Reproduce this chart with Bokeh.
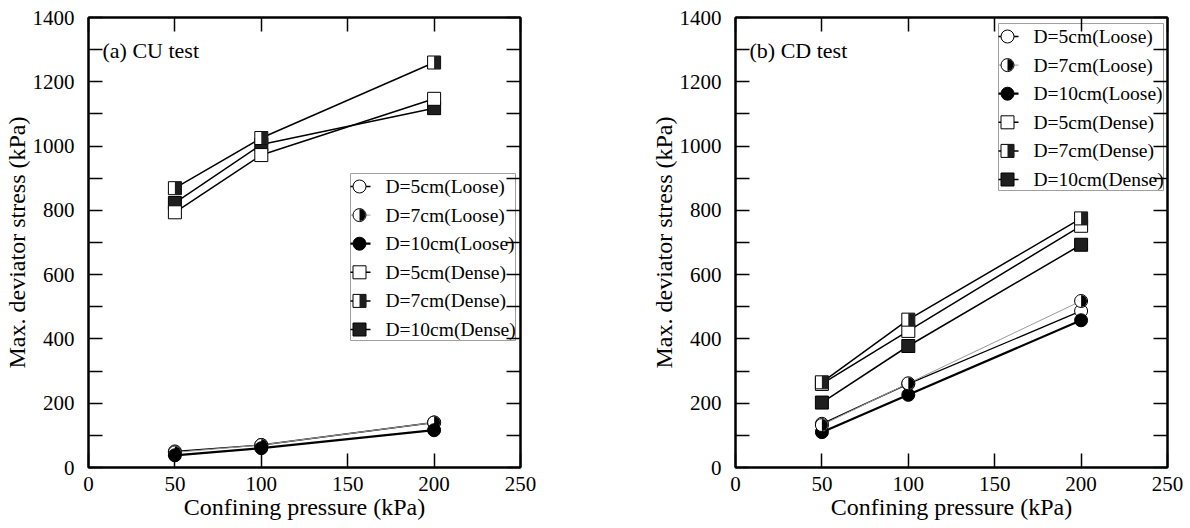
import math
from bokeh.plotting import figure
from bokeh.layouts import row
from bokeh.models import FixedTicker, LinearAxis, Range1d, Label, CustomLabelingPolicy
from bokeh.core.properties import value
from bokeh.embed import file_html
from bokeh.resources import INLINE

# ---------------- data ----------------
pressure = [50, 100, 200]
series_names = ["D=5cm(Loose)", "D=7cm(Loose)", "D=10cm(Loose)",
                "D=5cm(Dense)", "D=7cm(Dense)", "D=10cm(Dense)"]

cu_5_loose = [50, 70, 140]
cu_7_loose = [47, 70, 140]
cu_10_loose = [38, 60, 116]
cu_5_dense = [794, 972, 1147]
cu_7_dense = [869, 1025, 1260]
cu_10_dense = [823, 1005, 1118]

cd_5_loose = [136, 260, 487]
cd_7_loose = [132, 262, 518]
cd_10_loose = [110, 226, 458]
cd_5_dense = [260, 425, 752]
cd_7_dense = [265, 460, 775]
cd_10_dense = [202, 378, 693]

x_ticks = [0, 50, 100, 150, 200, 250]
y_major_ticks = [0, 200, 400, 600, 800, 1000, 1200, 1400]
y_minor_ticks = [100, 300, 500, 700, 900, 1100, 1300]

# ---------------- style ----------------
FONT_A = '"Liberation Serif"'
FONT_B = "Liberation Serif"
FRAME_W, FRAME_H = 432, 450
X_MAX, Y_MAX = 250, 1400
PXX = FRAME_W / X_MAX
PXY = FRAME_H / Y_MAX
MS = 13

styles = {
    "D=5cm(Loose)": dict(kind="circle", fill="white", half=False, lc="black", lw=1.3),
    "D=7cm(Loose)": dict(kind="circle", fill="white", half=True, lc="#9a9a9a", lw=1.0),
    "D=10cm(Loose)": dict(kind="circle", fill="black", half=False, lc="black", lw=2.2),
    "D=5cm(Dense)": dict(kind="square", fill="white", half=False, lc="black", lw=1.5),
    "D=7cm(Dense)": dict(kind="square", fill="white", half=True, lc="black", lw=1.5),
    "D=10cm(Dense)": dict(kind="square", fill="#1e1e1e", half=False, lc="black", lw=1.5),
}


def fx(px):
    return px / PXX


def fy(py):
    return Y_MAX - py / PXY


def draw_marker(p, xs, ys, st):
    if st["kind"] == "circle":
        p.scatter(xs, ys, marker="circle", size=MS, fill_color=st["fill"],
                  line_color="black", line_width=1)
        if st["half"]:
            p.wedge(x=xs, y=ys, radius=MS / 2 - 0.5, radius_units="screen",
                    start_angle=-math.pi / 2, end_angle=math.pi / 2,
                    fill_color="black", line_color=None)
    else:
        p.scatter(xs, ys, marker="square", size=MS, fill_color=st["fill"],
                  line_color="black", line_width=1)
        if st["half"]:
            dx = (MS / 4) / PXX
            p.rect(x=[x + dx for x in xs], y=ys, width=MS / 2, height=MS,
                   width_units="screen", height_units="screen",
                   fill_color="#1e1e1e", line_color=None)


def make_panel(title, data, order, legend_left, legend_top, border_left, border_right, font):
    p = figure(x_range=Range1d(0, X_MAX), y_range=Range1d(0, Y_MAX),
               frame_width=FRAME_W, frame_height=FRAME_H,
               min_border_left=border_left, min_border_right=border_right,
               min_border_top=17, min_border_bottom=61,
               output_backend="svg", toolbar_location=None,
               x_axis_label="Confining pressure (kPa)",
               y_axis_label="Max. deviator stress (kPa)")
    p.xgrid.visible = False
    p.ygrid.visible = False
    p.outline_line_color = "black"
    p.outline_line_width = 2
    p.background_fill_color = "white"
    p.border_fill_color = "white"

    p.xaxis.ticker = FixedTicker(ticks=x_ticks)
    p.yaxis.ticker = FixedTicker(ticks=y_major_ticks, minor_ticks=y_minor_ticks)
    p.axis.axis_line_width = 2
    p.axis.major_tick_in = 14
    p.axis.major_tick_out = 0
    p.axis.minor_tick_in = 14
    p.axis.minor_tick_out = 0
    p.axis.major_tick_line_width = 1.5
    p.axis.minor_tick_line_width = 1.5
    p.axis.major_label_text_font = font
    p.axis.major_label_text_font_size = "21px"
    p.axis.major_label_text_color = "black"
    p.axis.axis_label_text_font = font
    p.axis.axis_label_text_font_size = "24px"
    p.axis.axis_label_text_font_style = "normal"
    p.axis.axis_label_text_color = "black"
    p.axis.axis_label_standoff = 0
    p.xaxis.major_label_standoff = 9
    p.yaxis.major_label_standoff = 14

    no_labels = CustomLabelingPolicy(code="return new Set()")
    top = LinearAxis(ticker=FixedTicker(ticks=x_ticks), major_tick_in=14, major_tick_out=0,
                     major_label_text_font_size="0px", major_label_standoff=0,
                     major_label_policy=no_labels,
                     minor_tick_line_color=None, axis_line_width=2, major_tick_line_width=1.5)
    right = LinearAxis(ticker=FixedTicker(ticks=y_major_ticks, minor_ticks=y_minor_ticks),
                       major_tick_in=14, major_tick_out=0,
                       minor_tick_in=14, minor_tick_out=0,
                       major_label_text_font_size="0px", major_label_standoff=0,
                       major_label_policy=no_labels,
                       axis_line_width=2, major_tick_line_width=1.5,
                       minor_tick_line_width=1.5)
    p.add_layout(top, "above")
    p.add_layout(right, "right")

    # lines
    for name in series_names:
        st = styles[name]
        p.line(pressure, data[name], line_color=st["lc"], line_width=st["lw"])
    # markers
    for name in order:
        draw_marker(p, pressure, data[name], styles[name])

    # panel title
    p.add_layout(Label(x=fx(14), y=fy(33), text=title, text_font=font,
                       text_font_size="22px", text_baseline="middle", text_color="black"))

    # legend (manual)
    box_w, box_h = 165, 167
    p.quad(left=[fx(legend_left)], right=[fx(legend_left + box_w)],
           top=[fy(legend_top)], bottom=[fy(legend_top + box_h)],
           fill_color="white", line_color="#a0a0a0", line_width=1)
    for i, name in enumerate(series_names):
        st = styles[name]
        yy = fy(legend_top + 13 + i * 28.6)
        p.line([fx(legend_left), fx(legend_left + 20)], [yy, yy],
               line_color=st["lc"], line_width=st["lw"])
        draw_marker(p, [fx(legend_left + 9)], [yy], st)
        p.text(x=[fx(legend_left + 35)], y=[yy], text=[name],
               text_font=value(font), text_font_size=value("19.5px"),
               text_baseline="middle", text_align="left", text_color="black")
    return p


cu = dict(zip(series_names, [cu_5_loose, cu_7_loose, cu_10_loose,
                             cu_5_dense, cu_7_dense, cu_10_dense]))
cd = dict(zip(series_names, [cd_5_loose, cd_7_loose, cd_10_loose,
                             cd_5_dense, cd_7_dense, cd_10_dense]))

order_cu = ["D=5cm(Loose)", "D=7cm(Loose)", "D=10cm(Loose)",
            "D=10cm(Dense)", "D=5cm(Dense)", "D=7cm(Dense)"]
order_cd = ["D=5cm(Loose)", "D=10cm(Loose)", "D=7cm(Loose)",
            "D=5cm(Dense)", "D=10cm(Dense)", "D=7cm(Dense)"]

p1 = make_panel("(a) CU test", cu, order_cu, 262, 156, 88, 127, FONT_A)
p2 = make_panel("(b) CD test", cd, order_cd, 263, 6, 88, 23, FONT_B)

layout = row(p1, p2, spacing=0)
open("out.html", "w").write(file_html(layout, INLINE))
